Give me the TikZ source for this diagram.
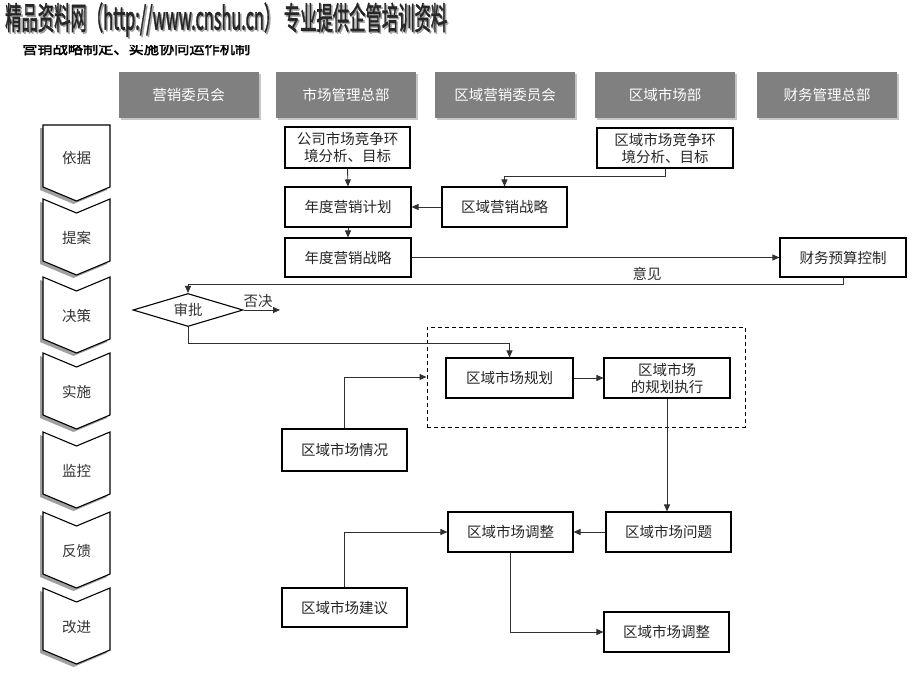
\documentclass[tikz,border=0pt]{standalone}
\usepackage{fontspec}
\setmainfont{Noto Sans CJK SC}
\newfontfamily\cjkb[FakeBold=2]{Noto Sans CJK SC}
\usetikzlibrary{arrows.meta,shapes.geometric}
\definecolor{hdrgray}{HTML}{808080}
\definecolor{shadowgray}{HTML}{A0A0A0}
\definecolor{linegray}{HTML}{303030}
\tikzset{
  box/.style={draw=black, line width=1.1pt, fill=white, inner sep=1pt, align=center,
    font=\fontsize{14.5}{17}\selectfont, text=black!85},
  hdr/.style={fill=hdrgray, minimum width=140pt, minimum height=46pt, text=white,
    font=\fontsize{14.5}{17}\selectfont, inner sep=0pt},
  hdrshadow/.style={fill=shadowgray!60, minimum width=140pt, minimum height=46pt, inner sep=0pt},
  chev/.style={draw=black, line width=1.1pt, fill=white},
  chevshadow/.style={fill=shadowgray},
  chevlabel/.style={font=\fontsize{14.5}{17}\selectfont, text=black!80, inner sep=0pt},
  conn/.style={draw=linegray, line width=0.9pt},
  arr/.style={conn, -{Triangle[length=7pt,width=6pt]}},
  lbl/.style={font=\fontsize{14.5}{17}\selectfont, text=black!80, inner sep=0pt},
}
\begin{document}
\begin{tikzpicture}[x=1pt,y=-1pt]
\useasboundingbox (0,0) rectangle (920,690);
\fill[white] (0,0) rectangle (920,690);

% title
\node[anchor=south west, inner sep=0pt, text=shadowgray] (titleshadow) at (6.5,38.5)
  {\resizebox{442pt}{27pt}{\cjkb 精品资料网（http://www.cnshu.cn） 专业提供企管培训资料}};
\node[anchor=south west, inner sep=0pt, text=black!85] (title) at (5,37)
  {\resizebox{442pt}{27pt}{\cjkb 精品资料网（http://www.cnshu.cn） 专业提供企管培训资料}};
% clipped subtitle
\begin{scope}
  \clip (0,46) rectangle (300,62);
  \node[anchor=base west, inner sep=0pt, text=black] (subtitle) at (22,54)
    {\resizebox{228pt}{!}{\cjkb\fontsize{15}{18}\selectfont 营销战略制定、实施协同运作机制}};
\end{scope}

% headers
\foreach \cx/\t/\n in {188.5/营销委员会/h1, 346/市场管理总部/h2, 505/区域营销委员会/h3, 665/区域市场部/h4, 827/财务管理总部/h5}{
  \node[hdrshadow] (\n s) at (\cx+2,97) {};
  \node[hdr] (\n) at (\cx,95) {\t};
}

% chevrons
\def\L{43}\def\R{110}\def\M{76.5}
\fill[chevshadow] (\L-3,128) -- (\R-3,128) -- (\R-3,190) -- (\M-3,204) -- (\L-3,190) -- cycle;
\draw[chev] (\L,125) -- (\R,125) -- (\R,187) -- (\M,201) -- (\L,187) -- cycle;
\node[chevlabel] (c1) at (\M,158) {依据};
\foreach \T/\t/\n in {199/提案/c2, 277/决策/c3, 353/实施/c4, 432/监控/c5, 512/反馈/c6, 588/改进/c7}{
  \fill[chevshadow] (\L-3,\T+3) -- (\M-3,\T+17) -- (\R-3,\T+3) -- (\R-3,\T+65) -- (\M-3,\T+79) -- (\L-3,\T+65) -- cycle;
  \draw[chev] (\L,\T) -- (\M,\T+14) -- (\R,\T) -- (\R,\T+62) -- (\M,\T+76) -- (\L,\T+62) -- cycle;
  \node[chevlabel] (\n) at (\M,\T+39) {\t};
}

% boxes
\node[box, minimum width=125pt, minimum height=41pt] (gs) at (347.5,147.5) {公司市场竞争环\\境分析、目标};
\node[box, minimum width=126pt, minimum height=40pt] (jh) at (348,207) {年度营销计划};
\node[box, minimum width=125pt, minimum height=40pt] (qyzl) at (504.5,207) {区域营销战略};
\node[box, minimum width=126pt, minimum height=39pt] (ndzl) at (348,257.5) {年度营销战略};
\node[box, minimum width=136pt, minimum height=40pt] (qyjz) at (665,148) {区域市场竞争环\\境分析、目标};
\node[box, minimum width=126pt, minimum height=39pt] (cw) at (843,257.5) {财务预算控制};
\node[draw=black, line width=1.1pt, diamond, aspect=3.33, minimum width=110pt, minimum height=33pt, inner sep=0pt,
  font=\fontsize{14.5}{17}\selectfont, text=black!80] (sp) at (188,310) {审批};
\node[draw=black, line width=1pt, dashed, dash pattern=on 4pt off 3pt, minimum width=318pt, minimum height=100pt, inner sep=0pt] (dash) at (586,377) {};
\node[box, minimum width=127pt, minimum height=40pt] (ghr) at (509.5,378) {区域市场规划};
\node[box, minimum width=126pt, minimum height=40pt] (zx) at (667,378) {区域市场\\的规划执行};
\node[box, minimum width=125pt, minimum height=42pt] (qk) at (344.5,450) {区域市场情况};
\node[box, minimum width=125pt, minimum height=40pt] (tz1) at (510.5,532) {区域市场调整};
\node[box, minimum width=125pt, minimum height=40pt] (wt) at (668.5,532) {区域市场问题};
\node[box, minimum width=125pt, minimum height=39pt] (jy) at (344.5,607.5) {区域市场建议};
\node[box, minimum width=125pt, minimum height=40pt] (tz2) at (666.5,632) {区域市场调整};

% connectors
\draw[arr] (gs.south) -- (jh.north);
\draw[arr] (jh.south) -- (ndzl.north);
\draw[arr] (qyzl.west) -- (jh.east);
\draw[arr] (qyjz.south) -- ++(0,8) -| (qyzl.north);
\draw[arr] (ndzl.east) -- (cw.west);
\draw[arr] (cw.south) -- ++(0,7) -| (sp.north);
\node[lbl] (yj) at (647,274) {意见};
\coordinate (fjend) at (280,310);
\draw[arr] (sp.east) -- (fjend);
\node[lbl] (fj) at (258,301) {否决};
\draw[arr] (sp.south) -- ++(0,16) -| (ghr.north);
\draw[arr] (qk.north) |- (dash.west);
\draw[arr] (ghr.east) -- (zx.west);
\draw[arr] (zx.south) -- (zx.south |- wt.north);
\draw[arr] (wt.west) -- (tz1.east);
\draw[arr] (jy.north) |- (tz1.west);
\draw[arr] (tz1.south) |- (tz2.west);
\end{tikzpicture}
\end{document}
